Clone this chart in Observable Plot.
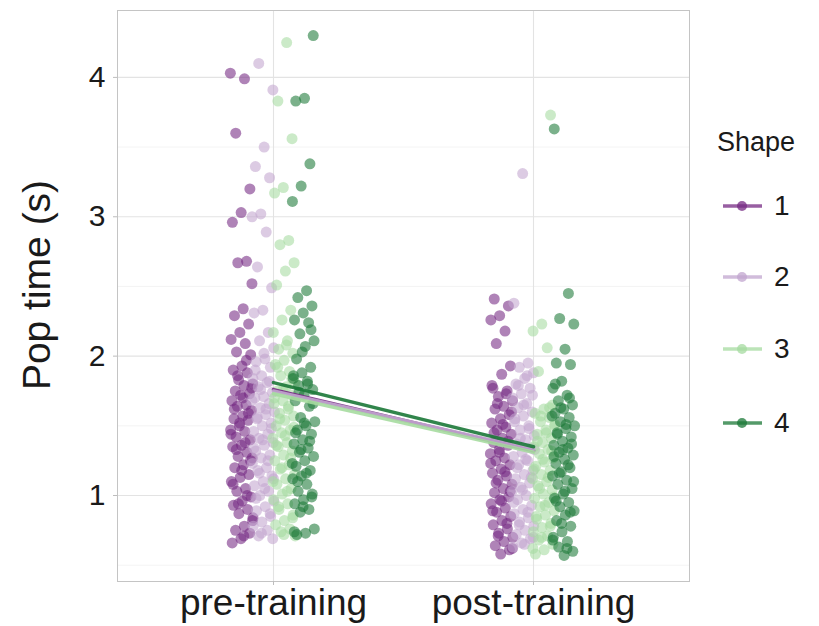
<!DOCTYPE html>
<html><head><meta charset="utf-8">
<script src="https://cdn.jsdelivr.net/npm/d3@7"></script>
<script src="https://cdn.jsdelivr.net/npm/@observablehq/plot@0.6"></script>
<style>
body{margin:0;background:#fff;font-family:"Liberation Sans",Arial,sans-serif;}
#wrap{position:relative;width:819px;height:626px;}
#legend{position:absolute;left:717px;top:127px;color:#1a1a1a;}
#legend .title{font-size:27px;line-height:30px;}
#legend .item{position:absolute;left:0;width:100px;height:30px;}
#legend .item span{position:absolute;left:57px;top:0;font-size:28px;line-height:30px;}
#legend svg{position:absolute;left:4px;top:5px;}
</style></head><body><div id="wrap"><div id="legend"></div></div>
<script>
const conditions = ["pre-training", "post-training"];
const shapes = ["1", "2", "3", "4"];
const colors = ["#762a83", "#c2a5cf", "#a6dba0", "#1b7837"];
const yTicks = [1, 2, 3, 4];
const yMinor = [0.5, 1.5, 2.5, 3.5];

// Pop time (s), pre-training, by shape
const pre1 = [4.03,3.99,3.60,3.20,3.03,2.96,2.68,2.67,2.52,2.34,2.29,2.23,2.17,2.12,2.09,2.03,2.01,1.93,1.90,1.88,1.83,1.80,1.79,1.75,1.73,1.72,1.68,1.65,1.64,1.61,1.57,1.55,1.54,1.50,1.47,1.46,1.42,1.40,1.36,1.35,1.31,1.28,1.27,1.22,1.20,1.15,1.13,1.10,1.05,1.03,0.99,0.96,0.93,0.90,0.87,0.84,0.78,0.75,0.73,0.69,0.66,1.97,1.86,1.77,1.70,1.62,1.59,1.52,1.44,1.38,1.33,1.25,1.18,1.08,1.00,0.94,0.82,0.71];
const pre2 = [4.10,3.91,3.50,3.36,3.28,3.02,3.00,2.89,2.64,2.49,2.33,2.31,2.17,2.11,2.06,1.98,1.96,1.92,1.86,1.84,1.81,1.78,1.74,1.71,1.70,1.66,1.63,1.60,1.58,1.55,1.52,1.50,1.46,1.44,1.41,1.38,1.36,1.32,1.29,1.27,1.23,1.20,1.18,1.14,1.10,1.07,1.03,1.00,0.96,0.92,0.89,0.85,0.81,0.78,0.75,0.71,0.69,2.02,1.90,1.82,1.76,1.68,1.62,1.56,1.48,1.40,1.34,1.25,1.16,1.12,1.05,0.98,0.87,0.73];
const pre3 = [4.25,3.83,3.56,3.21,3.17,2.83,2.80,2.67,2.61,2.51,2.33,2.26,2.17,2.11,2.05,2.02,1.97,1.94,1.89,1.86,1.81,1.78,1.75,1.72,1.68,1.66,1.62,1.59,1.57,1.54,1.50,1.47,1.45,1.41,1.38,1.35,1.32,1.29,1.25,1.22,1.19,1.15,1.12,1.08,1.05,1.01,0.97,0.94,0.90,0.86,0.82,0.79,0.76,0.74,0.71,2.08,1.92,1.84,1.76,1.70,1.64,1.55,1.49,1.43,1.36,1.27,1.20,1.10,1.03,0.92,0.84,0.72];
const pre4 = [4.30,3.85,3.83,3.38,3.22,3.11,2.47,2.42,2.36,2.31,2.26,2.24,2.16,2.11,2.07,1.98,1.92,1.88,1.84,1.82,1.79,1.76,1.72,1.68,1.64,1.56,1.53,1.50,1.47,1.44,1.40,1.37,1.34,1.31,1.28,1.25,1.21,1.18,1.14,1.12,1.08,1.03,1.01,0.97,0.94,0.90,0.88,0.76,0.73,0.72,2.19,2.03,1.86,1.80,1.74,1.66,1.52,1.45,1.39,1.33,1.23,1.16,1.10,0.99,0.92,0.74];
// Pop time (s), post-training, by shape
const post1 = [2.41,2.36,2.29,2.26,2.18,2.09,1.93,1.87,1.77,1.75,1.71,1.68,1.64,1.62,1.58,1.55,1.52,1.49,1.47,1.44,1.41,1.38,1.36,1.33,1.30,1.27,1.25,1.22,1.19,1.16,1.14,1.11,1.08,1.05,1.02,0.99,0.97,0.94,0.91,0.88,0.85,0.82,0.79,0.76,0.73,0.70,0.67,0.64,0.61,0.58,1.79,1.73,1.66,1.60,1.51,1.45,1.39,1.31,1.23,1.17,1.09,1.03,0.96,0.89,0.80,0.71,0.62];
const post2 = [3.31,2.38,1.95,1.92,1.88,1.84,1.80,1.77,1.73,1.70,1.66,1.63,1.60,1.57,1.53,1.50,1.47,1.43,1.40,1.37,1.34,1.31,1.28,1.25,1.22,1.18,1.15,1.12,1.09,1.06,1.03,1.00,0.97,0.93,0.90,0.87,0.84,0.81,0.78,0.75,0.72,0.69,0.66,0.63,1.86,1.79,1.72,1.65,1.55,1.48,1.41,1.33,1.26,1.20,1.13,1.04,0.95,0.88,0.79,0.70,0.65];
const post3 = [3.73,2.23,2.18,2.06,1.89,1.65,1.62,1.59,1.56,1.53,1.50,1.47,1.44,1.41,1.38,1.35,1.33,1.30,1.27,1.24,1.21,1.18,1.15,1.12,1.10,1.07,1.04,1.01,0.98,0.95,0.92,0.89,0.86,0.83,0.80,0.77,0.74,0.71,0.68,0.65,0.61,0.58,1.63,1.57,1.51,1.45,1.39,1.32,1.26,1.19,1.13,1.05,0.99,0.93,0.85,0.78,0.70,0.62];
const post4 = [3.63,2.45,2.27,2.23,2.05,1.95,1.94,1.82,1.77,1.72,1.68,1.65,1.62,1.59,1.56,1.53,1.50,1.48,1.45,1.42,1.39,1.36,1.34,1.31,1.29,1.26,1.23,1.20,1.17,1.14,1.11,1.08,1.05,1.01,0.98,0.95,0.92,0.89,0.86,0.82,0.78,0.74,0.70,0.67,0.63,0.60,0.57,1.80,1.70,1.63,1.57,1.51,1.44,1.37,1.33,1.28,1.22,1.16,1.10,1.03,0.96,0.88,0.80,0.68,0.62];
// Line (mean) values per shape
const meanPre = [1.76, 1.75, 1.73, 1.81];
const meanPost = [1.32, 1.33, 1.31, 1.35];

const preSets = [pre1, pre2, pre3, pre4];
const postSets = [post1, post2, post3, post4];

// Build point table with a dodge by shape and a deterministic jitter
const dodge = [-0.122, -0.04, 0.04, 0.115];
const points = [];
[preSets, postSets].forEach((sets, c) => {
  sets.forEach((vals, s) => {
    vals.forEach((v, i) => {
      const j = ((i * 0.6180339887 + s * 0.31 + c * 0.17) % 1) - 0.5;
      points.push({cond: c + 1, shape: shapes[s], xpos: c + 1 + dodge[s] + j * 0.088, value: v});
    });
  });
});
const lines = [];
shapes.forEach((sh, s) => {
  lines.push({shape: sh, cond: 1, value: meanPre[s]});
  lines.push({shape: sh, cond: 2, value: meanPost[s]});
});

const plot = Plot.plot({
  width: 819, height: 626,
  marginLeft: 117, marginRight: 130, marginTop: 10, marginBottom: 45,
  style: {fontFamily: "'Liberation Sans', Arial, sans-serif", background: "white", overflow: "visible"},
  x: {domain: [0.4, 2.6], axis: null},
  y: {domain: [0.383, 4.48], axis: null},
  color: {domain: shapes, range: colors},
  marks: [
    Plot.gridY(yMinor, {stroke: "#efefef", strokeOpacity: 1, strokeWidth: 0.7}),
    Plot.gridY(yTicks, {stroke: "#e3e3e3", strokeOpacity: 1, strokeWidth: 1.1}),
    Plot.gridX([1, 2], {stroke: "#e3e3e3", strokeOpacity: 1, strokeWidth: 1.1}),
    Plot.frame({stroke: "#c4c4c4", strokeWidth: 1}),
    Plot.axisY(yTicks, {tickSize: 4, tickPadding: 8, fontSize: 30, stroke: "#bdbdbd", fill: "#1a1a1a", label: null, tickFormat: d => String(d)}),
    Plot.axisX([1, 2], {tickSize: 4, tickPadding: 3, fontSize: 37, stroke: "#bdbdbd", fill: "#1a1a1a", label: null, tickFormat: d => conditions[d - 1]}),
    Plot.text(["Pop time (s)"], {frameAnchor: "left", textAnchor: "middle", rotate: -90, dx: -80, dy: -11, fontSize: 39, fill: "#1a1a1a"}),
    Plot.dot(points, {x: "xpos", y: "value", fill: "shape", r: 5.5, fillOpacity: 0.58, stroke: "none"}),
    Plot.line(lines, {x: "cond", y: "value", z: "shape", stroke: "shape", strokeWidth: 3.5, strokeOpacity: 0.9})
  ]
});
document.getElementById("wrap").prepend(plot);

// Legend
const leg = document.getElementById("legend");
const t = document.createElement("div");
t.className = "title"; t.textContent = "Shape";
leg.appendChild(t);
const ys = [64, 135, 207, 281];
shapes.forEach((sh, s) => {
  const it = document.createElement("div");
  it.className = "item"; it.style.top = ys[s] + "px";
  it.innerHTML = `<svg width="42" height="20"><line x1="2" y1="10" x2="41" y2="10" stroke="${colors[s]}" stroke-width="3.5" stroke-opacity="0.75"/><circle cx="21" cy="10" r="5" fill="${colors[s]}" fill-opacity="0.75"/></svg><span>${sh}</span>`;
  leg.appendChild(it);
});
</script></body></html>
